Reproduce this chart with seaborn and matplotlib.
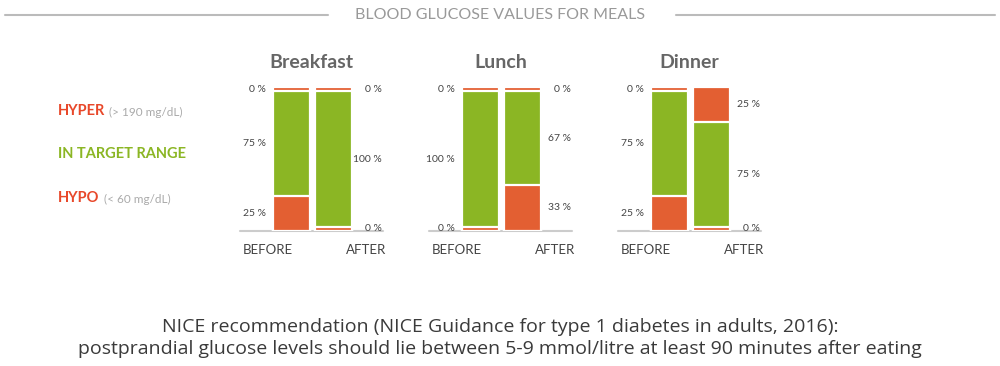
import numpy as np
import pandas as pd
import seaborn as sns
import matplotlib.pyplot as plt
from matplotlib.lines import Line2D

# ─────────────────────────────────────────
# DATA
# ─────────────────────────────────────────
meals = ["Breakfast", "Lunch", "Dinner"]
timings = ["BEFORE", "AFTER"]
hypo_before = [25, 0, 25]
target_before = [75, 100, 75]
hyper_before = [0, 0, 0]
hypo_after = [0, 33, 0]
target_after = [100, 67, 75]
hyper_after = [0, 0, 25]

ORANGE = "#E35F32"
RED_TXT = "#E8482A"
GREEN = "#8BB624"
GREY_TXT = "#444444"
MIN_STRIP = 3  # zero values still drawn as thin strip

sns.set_style("white")
plt.rcParams["font.family"] = ["Lato", "DejaVu Sans"]

rows = []
for i, meal in enumerate(meals):
    rows.append((meal, "BEFORE", hypo_before[i], target_before[i], hyper_before[i]))
    rows.append((meal, "AFTER", hypo_after[i], target_after[i], hyper_after[i]))
df = pd.DataFrame(rows, columns=["meal", "timing", "hypo", "target", "hyper"])
for c in ["hypo", "target", "hyper"]:
    df["d_" + c] = df[c].clip(lower=MIN_STRIP)
tot = df[["d_hypo", "d_target", "d_hyper"]].sum(axis=1)
for c in ["hypo", "target", "hyper"]:
    df["d_" + c] = df["d_" + c] / tot * 100
df["cum_hypo"] = df["d_hypo"]
df["cum_target"] = df["d_hypo"] + df["d_target"]
df["cum_hyper"] = df["cum_target"] + df["d_hyper"]

fig = plt.figure(figsize=(10, 3.66), dpi=100)
W, H = 1000, 366

ax_left_px = [240, 429, 618]
ax_w_px, top_px, base_px = 143, 87, 231

for m, meal in enumerate(meals):
    l = ax_left_px[m]
    ax = fig.add_axes([l / W, 1 - base_px / H, ax_w_px / W, (base_px - top_px) / H])
    sub = df[df.meal == meal]
    for col, colr in [("cum_hyper", ORANGE), ("cum_target", GREEN), ("cum_hypo", ORANGE)]:
        sns.barplot(data=sub, x="timing", y=col, order=timings, color=colr,
                    width=0.88, errorbar=None, edgecolor="white", linewidth=1.6,
                    saturation=1, ax=ax)
    ax.set_xlim(-1.226, 2.18)
    ax.set_ylim(0, 100)
    ax.axis("off")
    ax.add_line(Line2D([0, 1], [0, 0], transform=ax.transAxes, color="#cccccc",
                       lw=1.5, clip_on=False, zorder=0))

    for j, t in enumerate(timings):
        r = sub[sub.timing == t].iloc[0]
        centers = [(r["hypo"], r["d_hypo"] / 2),
                   (r["target"], r["cum_hypo"] + r["d_target"] / 2),
                   (r["hyper"], r["cum_target"] + r["d_hyper"] / 2)]
        for val, yc in centers:
            if j == 0:
                ax.annotate(f"{val} %", xy=(-0.44, yc), xytext=(-5, 0),
                            textcoords="offset points", ha="right", va="center",
                            fontsize=7.5, color=GREY_TXT)
            else:
                ax.annotate(f"{val} %", xy=(1.44, yc), xytext=(21.5, 0),
                            textcoords="offset points", ha="right", va="center",
                            fontsize=7.5, color=GREY_TXT)

    ax.text(0.02, -0.13, "BEFORE", transform=ax.transAxes, ha="left", va="center",
            fontsize=9.5, color=GREY_TXT)
    ax.text(1.02, -0.13, "AFTER", transform=ax.transAxes, ha="right", va="center",
            fontsize=9.5, color=GREY_TXT)
    ax.text(0.5, 1.17, meal, transform=ax.transAxes, ha="center", va="center",
            fontsize=14, fontweight="bold", color="#666666")

# legend on the left
def legend_item(y_px, label, colr, note):
    t = fig.text(58 / W, 1 - y_px / H, label, ha="left", va="center",
                 fontsize=10.5, fontweight="bold", color=colr)
    if note:
        fig.add_artist(plt.Annotation(note, xy=(1, 0.5), xycoords=t, xytext=(3, -1),
                                      textcoords="offset points", ha="left", va="center",
                                      fontsize=8.5, color="#aaaaaa", annotation_clip=False))

legend_item(111, "HYPER", RED_TXT, "(> 190 mg/dL)")
legend_item(154, "IN TARGET RANGE", GREEN, None)
legend_item(198, "HYPO", RED_TXT, "(< 60 mg/dL)")

# header
fig.text(0.5, 1 - 15 / H, "BLOOD GLUCOSE VALUES FOR MEALS", ha="center", va="center",
         fontsize=11.5, color="#999999")
fig.add_artist(Line2D([5 / W, 328 / W], [1 - 15 / H] * 2, color="#bbbbbb", lw=1.5))
fig.add_artist(Line2D([676 / W, 995 / W], [1 - 15 / H] * 2, color="#bbbbbb", lw=1.5))

# footer
foot_kw = dict(ha="center", va="center", fontsize=14, color="#3a3a3a",
               family=["Open Sans", "DejaVu Sans"])
fig.text(0.5, 1 - 327 / H, "NICE recommendation (NICE Guidance for type 1 diabetes in adults, 2016):", **foot_kw)
fig.text(0.5, 1 - 349 / H, "postprandial glucose levels should lie between 5-9 mmol/litre at least 90 minutes after eating", **foot_kw)

plt.savefig("out.png", dpi=100)
